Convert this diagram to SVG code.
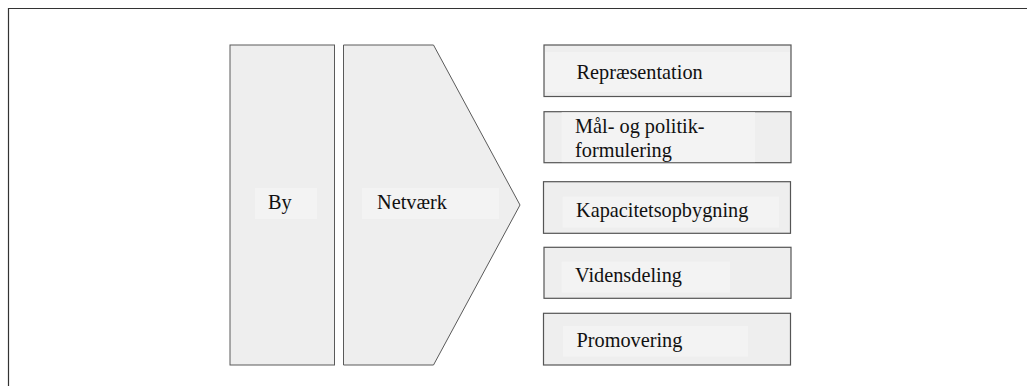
<svg xmlns="http://www.w3.org/2000/svg" width="1027" height="386" viewBox="0 0 1027 386">
<style>
.shape{fill:#eeeeee;stroke:#5a5a5a;stroke-width:1}
.box{fill:#eeeeee;stroke:#555555;stroke-width:1.2}
.lbl{fill:#f3f3f3;stroke:none}
.t{font-family:'Liberation Serif','DejaVu Serif',serif;font-size:20.3px;fill:#111111}
</style>
<rect width="1027" height="386" fill="#ffffff"/>
<path d="M8.5,386 V8.5 H1027" fill="none" stroke="#333333" stroke-width="1.2"/>
<g id="by">
<rect class="shape" x="230" y="45" width="104.5" height="320" stroke="#707070"/>
<rect class="lbl" x="255" y="188" width="62" height="31"/>
<text class="t" x="268" y="209">By</text>
</g>
<g id="netvaerk">
<polygon class="shape" points="343.5,45 433.5,45 520,205 433.5,365 343.5,365" stroke="#404040"/>
<rect class="lbl" x="362" y="188" width="137" height="31"/>
<text class="t" x="377" y="209">Netværk</text>
</g>
<g id="repraesentation">
<rect class="box" x="544" y="45" width="247" height="51.5"/>
<rect class="lbl" x="545" y="52" width="245" height="40"/>
<text class="t" x="576.5" y="78.5">Repræsentation</text>
</g>
<g id="maal">
<rect class="box" x="544" y="111.7" width="247" height="51"/>
<rect class="lbl" x="561.7" y="112.3" width="193.3" height="49.8"/>
<text class="t" x="575"><tspan x="575" y="132.5">Mål- og politik-</tspan><tspan x="575" y="156.5">formulering</tspan></text>
</g>
<g id="kapacitet">
<rect class="box" x="543.5" y="181.7" width="247" height="51.6"/>
<rect class="lbl" x="562.7" y="196.7" width="216.3" height="31"/>
<text class="t" x="576" y="217">Kapacitetsopbygning</text>
</g>
<g id="videns">
<rect class="box" x="544" y="247.3" width="247" height="51"/>
<rect class="lbl" x="561.7" y="261.7" width="168.3" height="31"/>
<text class="t" x="575" y="282">Vidensdeling</text>
</g>
<g id="promovering">
<rect class="box" x="543.5" y="313.3" width="247" height="51.7"/>
<rect class="lbl" x="563" y="326" width="185" height="30.7"/>
<text class="t" x="576.5" y="347">Promovering</text>
</g>
<g id="connectors"></g>
</svg>
